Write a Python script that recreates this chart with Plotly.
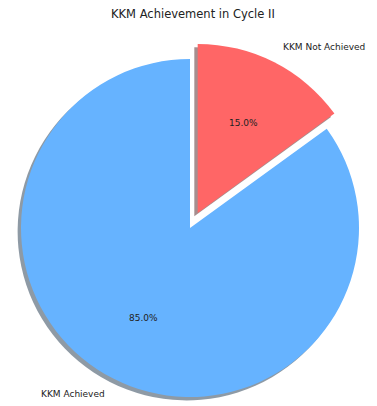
import math
import plotly.graph_objects as go

# ---- data ----
labels = ["KKM Achieved", "KKM Not Achieved"]
values = [85, 15]
colors = ["#66b3ff", "#ff6666"]
explode = [0, 0.1]
title_text = "KKM Achievement in Cycle II"

# ---- layout constants (pixels) ----
W, H = 377, 406
CX, CY, R = 190, 228, 169
SHADOW = 0.02
PCT_DIST, LABEL_DIST = 0.6, 1.1
FONT = "DejaVu Sans"

total = sum(values)
# matplotlib-style: start at 90 deg, counterclockwise
mids = []
start = 90.0
for v in values:
    span = 360.0 * v / total
    mids.append(start + span / 2)
    start += span
# plotly: clockwise from 12 o'clock; rotate so the first slice ends at 12 o'clock going clockwise
rotation = 360.0 * sum(values[1:]) / total


def hex_rgb(h):
    h = h.lstrip("#")
    return [int(h[i:i + 2], 16) for i in (0, 2, 4)]


def domain(cx, cy):
    return dict(x=[(cx - R) / W, (cx + R) / W], y=[(H - cy - R) / H, (H - cy + R) / H])


def centre(i):
    a = math.radians(mids[i])
    return CX + explode[i] * R * math.cos(a), CY - explode[i] * R * math.sin(a)


fig = go.Figure()
transparent = "rgba(0,0,0,0)"

# shadows
for i in range(len(values)):
    cx, cy = centre(i)
    r, g, b = [int(c * 0.3) for c in hex_rgb(colors[i])]
    cols = [transparent] * len(values)
    cols[i] = f"rgba({r},{g},{b},0.5)"
    fig.add_trace(go.Pie(
        labels=labels, values=values, sort=False, direction="clockwise",
        rotation=rotation, marker=dict(colors=cols, line=dict(width=0)), textinfo="none",
        hoverinfo="skip", showlegend=False,
        domain=domain(cx - SHADOW * R, cy + SHADOW * R)))

# slices
for i in range(len(values)):
    cx, cy = centre(i)
    cols = [transparent] * len(values)
    cols[i] = colors[i]
    fig.add_trace(go.Pie(
        labels=labels, values=values, sort=False, direction="clockwise",
        rotation=rotation, marker=dict(colors=cols, line=dict(width=0)), textinfo="none",
        hoverinfo="label+percent", showlegend=False, domain=domain(cx, cy)))

annotations = []
for i in range(len(values)):
    cx, cy = centre(i)
    a = math.radians(mids[i])
    ca, sa = math.cos(a), math.sin(a)
    px, py = cx + PCT_DIST * R * ca, cy - PCT_DIST * R * sa
    annotations.append(dict(
        x=px / W, y=1 - py / H, xref="paper", yref="paper", showarrow=False,
        text=f"{100 * values[i] / total:.1f}%", xanchor="center", yanchor="middle",
        borderpad=0, font=dict(family=FONT, size=9, color="#222")))
    lx, ly = cx + LABEL_DIST * R * ca, cy - LABEL_DIST * R * sa
    annotations.append(dict(
        x=lx / W, y=1 - ly / H, xref="paper", yref="paper", showarrow=False,
        text=labels[i], xanchor="left" if ca > 0 else "right", yanchor="middle",
        borderpad=0, font=dict(family=FONT, size=9, color="#222")))

annotations.append(dict(
    x=192.5 / W, y=1 - 14 / H, xref="paper", yref="paper", showarrow=False,
    text=title_text, xanchor="center", yanchor="middle", borderpad=0,
    font=dict(family=FONT, size=11.5, color="#222")))

fig.update_layout(
    width=W, height=H, margin=dict(l=0, r=0, t=0, b=0),
    paper_bgcolor="white", plot_bgcolor="white",
    annotations=annotations,
)

fig.write_html(
    "out.html",
    config={"displayModeBar": False},
    post_script="document.body.style.margin='0';document.body.style.overflow='hidden';",
)
